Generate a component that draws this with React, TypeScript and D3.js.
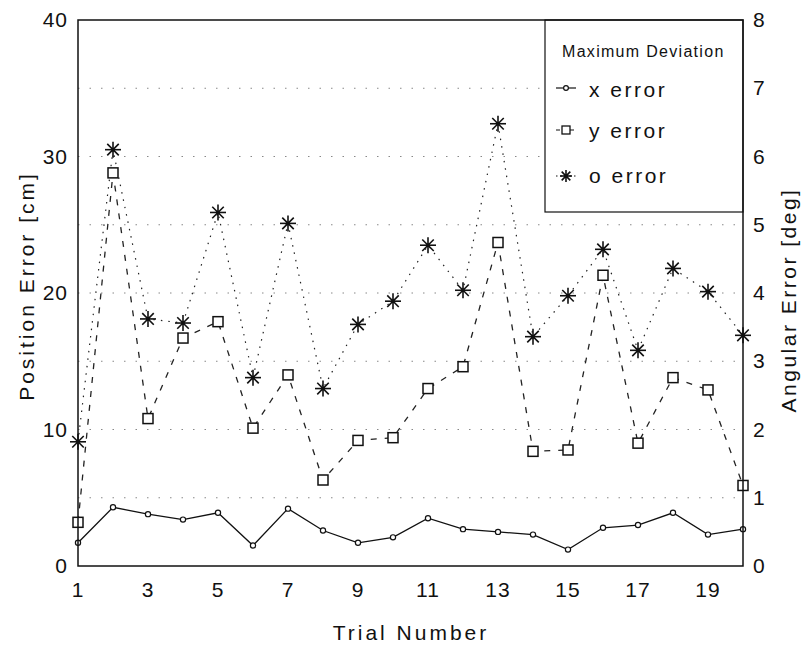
import React from 'react';
import * as d3 from 'd3';

// trial numbers 1..20
const trials = [1, 2, 3, 4, 5, 6, 7, 8, 9, 10, 11, 12, 13, 14, 15, 16, 17, 18, 19, 20];
// position errors [cm]
const xError = [1.7, 4.3, 3.8, 3.4, 3.9, 1.5, 4.2, 2.6, 1.7, 2.1, 3.5, 2.7, 2.5, 2.3, 1.2, 2.8, 3.0, 3.9, 2.3, 2.7];
const yError = [3.2, 28.8, 10.8, 16.7, 17.9, 10.1, 14.0, 6.3, 9.2, 9.4, 13.0, 14.6, 23.7, 8.4, 8.5, 21.3, 9.0, 13.8, 12.9, 5.9];
// orientation error [deg]
const oError = [1.82, 6.1, 3.62, 3.56, 5.18, 2.76, 5.02, 2.6, 3.54, 3.88, 4.7, 4.04, 6.48, 3.36, 3.96, 4.64, 3.16, 4.36, 4.02, 3.38];

const xTicks = [1, 3, 5, 7, 9, 11, 13, 15, 17, 19];
const leftTicks = [0, 10, 20, 30, 40];
const rightTicks = [0, 1, 2, 3, 4, 5, 6, 7, 8];
const gridTicks = [5, 10, 15, 20, 25, 30, 35];

const font = '"Liberation Sans", Arial, sans-serif';

const Star = ({ cx, cy, r = 8 }) => {
    const d = r * 0.72;
    return (
        <g stroke="#111" strokeWidth={1.6}>
            <line x1={cx - r} y1={cy} x2={cx + r} y2={cy} />
            <line x1={cx} y1={cy - r} x2={cx} y2={cy + r} />
            <line x1={cx - d} y1={cy - d} x2={cx + d} y2={cy + d} />
            <line x1={cx - d} y1={cy + d} x2={cx + d} y2={cy - d} />
            <circle cx={cx} cy={cy} r={2} fill="#111" stroke="none" />
        </g>
    );
};

const App = () => {
    const width = 804;
    const height = 648;
    const left = 78, right = 743, top = 20, bottom = 566;

    const x = d3.scaleLinear([1, 20], [left, right]);
    const yL = d3.scaleLinear([0, 40], [bottom, top]);
    const yR = d3.scaleLinear([0, 8], [bottom, top]);

    const lineX = d3.line<number>().x((_, i) => x(trials[i])).y(d => yL(d));
    const lineO = d3.line<number>().x((_, i) => x(trials[i])).y(d => yR(d));

    const legX = 545, legY = top, legH = 192;

    return (
        <svg width={width} height={height} style={{ position: 'absolute', left: 0, top: 0, background: '#fff' }}
            fontFamily={font}>
            {/* grid */}
            {gridTicks.map(t => (
                <line key={t} x1={left} x2={right} y1={yL(t)} y2={yL(t)}
                    stroke="#888" strokeWidth={1} strokeDasharray="1.5,10" />
            ))}

            {/* series */}
            <path d={lineO(oError)} fill="none" stroke="#222" strokeWidth={1.2} strokeDasharray="1.5,6" />
            <path d={lineX(yError)} fill="none" stroke="#222" strokeWidth={1.3} strokeDasharray="6,8" />
            <path d={lineX(xError)} fill="none" stroke="#111" strokeWidth={1.3} />

            {xError.map((v, i) => (
                <circle key={'x' + i} cx={x(trials[i])} cy={yL(v)} r={2.6} fill="#fff" stroke="#111" strokeWidth={1.2} />
            ))}
            {yError.map((v, i) => (
                <rect key={'y' + i} x={x(trials[i]) - 5} y={yL(v) - 5} width={10} height={10}
                    fill="#fff" stroke="#111" strokeWidth={1.5} />
            ))}
            {oError.map((v, i) => (
                <Star key={'o' + i} cx={x(trials[i])} cy={yR(v)} />
            ))}

            {/* legend */}
            <rect x={legX} y={legY} width={right - legX} height={legH} fill="#fff" stroke="#111" strokeWidth={1.2} />
            <text x={562} y={57} fontSize={16} letterSpacing={1.3} fill="#111">Maximum Deviation</text>
            <g>
                <line x1={556} x2={576} y1={88} y2={88} stroke="#111" strokeWidth={1.2} />
                <circle cx={566} cy={88} r={2.4} fill="#fff" stroke="#111" strokeWidth={1.2} />
                <text x={589} y={97} fontSize={21} letterSpacing={2.5} fill="#111">x error</text>
            </g>
            <g>
                <line x1={556} x2={576} y1={130} y2={130} stroke="#111" strokeWidth={1.2} strokeDasharray="4,3" />
                <rect x={562} y={126} width={8} height={8} fill="#fff" stroke="#111" strokeWidth={1.3} />
                <text x={589} y={138} fontSize={21} letterSpacing={2.5} fill="#111">y error</text>
            </g>
            <g>
                <line x1={556} x2={576} y1={176} y2={176} stroke="#111" strokeWidth={1.2} strokeDasharray="1.5,3" />
                <Star cx={566} cy={176} r={6} />
                <text x={589} y={183} fontSize={21} letterSpacing={2.5} fill="#111">o error</text>
            </g>

            {/* frame */}
            <rect x={left} y={top} width={right - left} height={bottom - top} fill="none" stroke="#111" strokeWidth={1.5} />

            {/* axis labels */}
            {leftTicks.map(t => (
                <text key={t} x={68} y={yL(t) + 7} fontSize={21} letterSpacing={1} textAnchor="end" fill="#111">{t}</text>
            ))}
            {rightTicks.map(t => (
                <text key={t} x={753} y={yR(t) + 7} fontSize={21} textAnchor="start" fill="#111">{t}</text>
            ))}
            {xTicks.map(t => (
                <text key={t} x={x(t)} y={597} fontSize={21} letterSpacing={1} textAnchor="middle" fill="#111">{t}</text>
            ))}
            <text x={411} y={640} fontSize={21} letterSpacing={3} textAnchor="middle" fill="#111">Trial Number</text>
            <text transform={`translate(34,286) rotate(-90)`} fontSize={21} letterSpacing={3} textAnchor="middle" fill="#111">
                Position Error [cm]
            </text>
            <text transform={`translate(796,300) rotate(-90)`} fontSize={21} letterSpacing={2.5} textAnchor="middle" fill="#111">
                Angular Error [deg]
            </text>
        </svg>
    );
};

export default App;
